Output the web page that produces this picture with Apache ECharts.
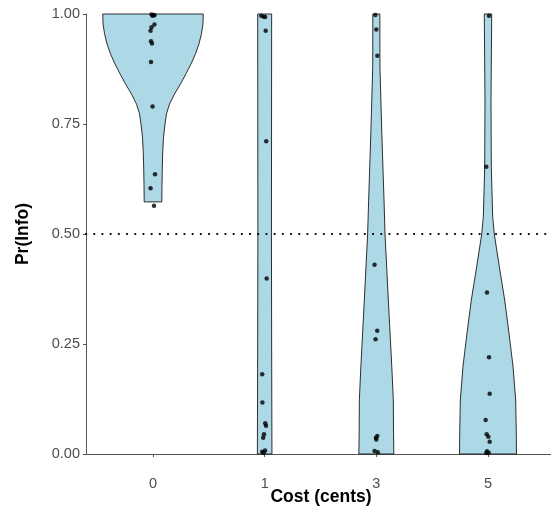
<!DOCTYPE html>
<html>
<head>
<meta charset="utf-8">
<script src="https://cdn.jsdelivr.net/npm/echarts@6/dist/echarts.min.js"></script>
<style>
  html, body { margin: 0; padding: 0; background: #fff; }
  #chart { width: 551px; height: 511px; }
</style>
</head>
<body>
<div id="chart"></div>
<script>
// ---- Data ----
const categories = ['0', '1', '3', '5'];
const yTicks = [0, 0.25, 0.5, 0.75, 1];
const referenceLine = 0.5;
const xTitle = 'Cost (cents)';
const yTitle = 'Pr(Info)';

// Observed Pr(Info) values per cost level and their horizontal jitter (category units)
const values0 = [0.999, 0.998, 0.997, 0.996, 0.976, 0.970, 0.962, 0.938, 0.933, 0.891, 0.790, 0.636, 0.604, 0.564];
const jitter0 = [-0.013, 0.004, 0.013, -0.004, 0.013, -0.013, -0.022, -0.018, -0.009, -0.018, -0.004, 0.018, -0.022, 0.009];
const values1 = [0.996, 0.994, 0.993, 0.962, 0.711, 0.399, 0.181, 0.117, 0.070, 0.064, 0.045, 0.037, 0.008, 0.005, 0.003];
const jitter1 = [-0.031, -0.009, 0.004, 0.009, 0.014, 0.018, -0.022, -0.020, 0.005, 0.012, -0.006, -0.013, 0.004, -0.022, -0.009];
const values3 = [0.998, 0.965, 0.905, 0.430, 0.280, 0.261, 0.041, 0.037, 0.033, 0.007, 0.004];
const jitter3 = [-0.009, 0.000, 0.009, -0.016, 0.008, -0.007, 0.009, -0.004, 0.000, -0.016, 0.013];
const values5 = [0.996, 0.653, 0.367, 0.220, 0.137, 0.077, 0.045, 0.039, 0.028, 0.006, 0.003, 0.002];
const jitter5 = [0.009, -0.015, -0.009, 0.009, 0.015, -0.021, -0.012, 0.003, 0.015, -0.009, 0.006, -0.015];

// Violin outlines: relative density (1 = widest violin) at Pr(Info) levels
const violinLevels0 = [1.000, 0.977, 0.955, 0.932, 0.909, 0.886, 0.864, 0.841, 0.818, 0.795, 0.773, 0.750, 0.720, 0.690, 0.650, 0.610, 0.573];
const violinDensity0 = [1.000, 0.994, 0.964, 0.915, 0.845, 0.755, 0.656, 0.547, 0.427, 0.328, 0.268, 0.239, 0.209, 0.195, 0.185, 0.179, 0.175];
const violinLevels1 = [1.000, 0.750, 0.500, 0.250, 0.000];
const violinDensity1 = [0.139, 0.137, 0.135, 0.139, 0.145];
const violinLevels3 = [1.000, 0.880, 0.730, 0.577, 0.500, 0.350, 0.198, 0.123, 0.047, 0.000];
const violinDensity3 = [0.070, 0.072, 0.109, 0.153, 0.173, 0.239, 0.308, 0.338, 0.342, 0.348];
const violinLevels5 = [1.000, 0.800, 0.650, 0.540, 0.500, 0.426, 0.350, 0.275, 0.200, 0.123, 0.047, 0.000];
const violinDensity5 = [0.074, 0.060, 0.066, 0.093, 0.125, 0.225, 0.332, 0.417, 0.497, 0.551, 0.563, 0.567];

// ---- Build options ----
const valueLists = [values0, values1, values3, values5];
const jitterLists = [jitter0, jitter1, jitter3, jitter5];
const violins = [
  { levels: violinLevels0, density: violinDensity0 },
  { levels: violinLevels1, density: violinDensity1 },
  { levels: violinLevels3, density: violinDensity3 },
  { levels: violinLevels5, density: violinDensity5 }
];
const VIOLIN_HALF = 0.45;

const pointData = [];
valueLists.forEach((vals, i) => {
  vals.forEach((v, k) => pointData.push([i + jitterLists[i][k], v]));
});

const fontFamily = '"Liberation Sans", Arial, Helvetica, sans-serif';
const axisColor = '#555555';
const labelColor = '#4D4D4D';
const titleFont = 'bold 17.5px ' + fontFamily;

const chart = echarts.init(document.getElementById('chart'), null, { renderer: 'canvas' });
chart.setOption({
  animation: false,
  backgroundColor: '#ffffff',
  textStyle: { fontFamily: fontFamily },
  grid: { left: 86, top: 14, width: 469, height: 440, containLabel: false, outerBoundsMode: 'none' },
  graphic: [
    {
      type: 'text', x: 321, y: 497, z: 10,
      style: { text: xTitle, font: titleFont, fill: '#000', align: 'center', verticalAlign: 'middle' }
    },
    {
      type: 'text', x: 23, y: 234, rotation: Math.PI / 2, z: 10,
      style: { text: yTitle, font: titleFont, fill: '#000', align: 'center', verticalAlign: 'middle' }
    }
  ],
  xAxis: {
    type: 'value',
    min: -0.6,
    max: 3.6,
    axisLine: { show: true, onZero: false, lineStyle: { color: axisColor, width: 1 } },
    axisTick: { show: true, length: 3, lineStyle: { color: axisColor }, customValues: [0, 1, 2, 3] },
    axisLabel: {
      customValues: [0, 1, 2, 3],
      formatter: (v) => categories[Math.round(v)],
      color: labelColor, fontSize: 14.5, fontFamily: fontFamily, margin: 22
    },
    splitLine: { show: false }
  },
  yAxis: {
    type: 'value',
    min: 0,
    max: 1,
    interval: 0.25,
    axisLine: { show: true, onZero: false, lineStyle: { color: axisColor, width: 1 } },
    axisTick: { show: true, length: 3, lineStyle: { color: axisColor } },
    axisLabel: {
      formatter: (v) => v.toFixed(2),
      color: labelColor, fontSize: 14.5, fontFamily: fontFamily, margin: 6
    },
    splitLine: { show: false }
  },
  series: [
    {
      type: 'custom',
      name: 'violin',
      clip: false,
      z: 2,
      data: violins.map((_, i) => [i]),
      encode: { x: 0 },
      renderItem: function (params, api) {
        const i = api.value(0);
        const vio = violins[i];
        const pts = [];
        for (let k = 0; k < vio.levels.length; k++) {
          pts.push(api.coord([i - vio.density[k] * VIOLIN_HALF, vio.levels[k]]));
        }
        for (let k = vio.levels.length - 1; k >= 0; k--) {
          pts.push(api.coord([i + vio.density[k] * VIOLIN_HALF, vio.levels[k]]));
        }
        return {
          type: 'polygon',
          shape: { points: pts },
          style: { fill: '#ADD8E6', stroke: '#1a1a1a', lineWidth: 0.9 }
        };
      }
    },
    {
      type: 'line',
      name: 'reference',
      z: 3,
      data: [[-0.6, referenceLine], [3.6, referenceLine]],
      symbol: 'none',
      silent: true,
      lineStyle: { color: '#000', width: 2.2, type: [0.1, 8.1], cap: 'round' }
    },
    {
      type: 'scatter',
      name: 'points',
      z: 4,
      clip: false,
      symbolSize: 4.5,
      itemStyle: { color: '#000' },
      data: pointData
    }
  ]
});
</script>
</body>
</html>
